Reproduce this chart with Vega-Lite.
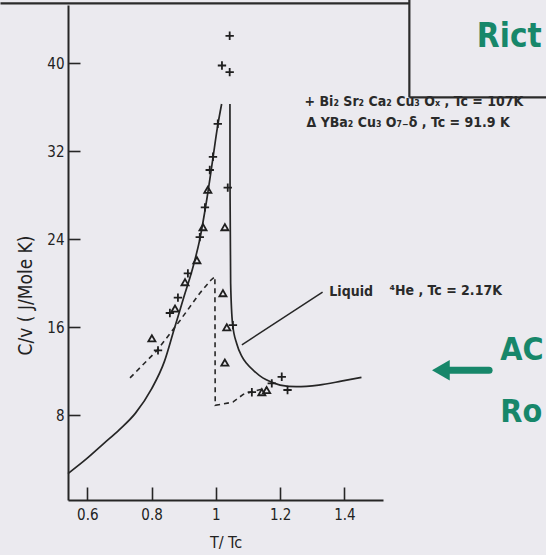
{
  "$schema": "https://vega.github.io/schema/vega-lite/v6.json",
  "width": 315,
  "height": 495,
  "autosize": "none",
  "padding": {"left": 68, "top": 5, "right": 163, "bottom": 55},
  "background": "#ebeaef",
  "config": {
    "view": {"stroke": null},
    "font": "DejaVu Sans Condensed, DejaVu Sans, sans-serif",
    "axis": {
      "grid": false,
      "domainColor": "#262626",
      "domainWidth": 2,
      "tickColor": "#262626",
      "tickWidth": 1.6,
      "labelColor": "#222222",
      "labelFont": "DejaVu Sans Condensed, DejaVu Sans, sans-serif",
      "labelFontSize": 15,
      "titleColor": "#222222",
      "titleFont": "DejaVu Sans Condensed, DejaVu Sans, sans-serif",
      "titleFontWeight": "normal",
      "titleFontSize": 16
    }
  },
  "datasets": {
    "lambda": [
      {"branch": "below", "t": 0.54, "c": 2.7},
      {"branch": "below", "t": 0.6, "c": 4.1},
      {"branch": "below", "t": 0.65, "c": 5.4},
      {"branch": "below", "t": 0.7, "c": 6.7},
      {"branch": "below", "t": 0.75, "c": 8.2},
      {"branch": "below", "t": 0.8, "c": 10.4},
      {"branch": "below", "t": 0.84, "c": 12.9},
      {"branch": "below", "t": 0.87, "c": 15.8},
      {"branch": "below", "t": 0.9, "c": 18.7},
      {"branch": "below", "t": 0.93, "c": 21.6},
      {"branch": "below", "t": 0.95, "c": 24.0},
      {"branch": "below", "t": 0.97, "c": 27.3},
      {"branch": "below", "t": 0.99, "c": 31.2},
      {"branch": "below", "t": 1.005, "c": 34.2},
      {"branch": "below", "t": 1.018, "c": 36.3},
      {"branch": "above", "t": 1.0438, "c": 36.3},
      {"branch": "above", "t": 1.0442, "c": 28.0},
      {"branch": "above", "t": 1.046, "c": 20.0},
      {"branch": "above", "t": 1.052, "c": 16.3},
      {"branch": "above", "t": 1.065, "c": 14.5},
      {"branch": "above", "t": 1.08, "c": 13.4},
      {"branch": "above", "t": 1.096, "c": 12.7},
      {"branch": "above", "t": 1.12, "c": 12.0},
      {"branch": "above", "t": 1.146, "c": 11.4},
      {"branch": "above", "t": 1.175, "c": 11.0},
      {"branch": "above", "t": 1.2, "c": 10.75},
      {"branch": "above", "t": 1.25, "c": 10.6},
      {"branch": "above", "t": 1.32, "c": 10.75},
      {"branch": "above", "t": 1.39, "c": 11.1},
      {"branch": "above", "t": 1.453, "c": 11.45}
    ],
    "bcs": [
      {"step": 1, "t": 0.733, "c": 11.4},
      {"step": 2, "t": 0.817, "c": 13.9},
      {"step": 3, "t": 0.888, "c": 16.6},
      {"step": 4, "t": 0.95, "c": 19.1},
      {"step": 5, "t": 0.985, "c": 20.3},
      {"step": 6, "t": 0.997, "c": 20.6},
      {"step": 7, "t": 0.998, "c": 8.9},
      {"step": 8, "t": 1.053, "c": 9.2},
      {"step": 9, "t": 1.085, "c": 9.9},
      {"step": 10, "t": 1.12, "c": 10.2},
      {"step": 11, "t": 1.16, "c": 10.5}
    ],
    "bi2223": [
      {"t": 1.043, "c": 42.5},
      {"t": 1.019, "c": 39.8},
      {"t": 1.043, "c": 39.2},
      {"t": 1.006, "c": 34.5},
      {"t": 0.991, "c": 31.5},
      {"t": 0.981, "c": 30.3},
      {"t": 0.966, "c": 26.9},
      {"t": 0.95, "c": 24.2},
      {"t": 1.037, "c": 28.7},
      {"t": 1.053, "c": 16.2},
      {"t": 0.913, "c": 20.9},
      {"t": 0.882, "c": 18.7},
      {"t": 0.857, "c": 17.3},
      {"t": 0.82, "c": 13.9},
      {"t": 1.174, "c": 10.9},
      {"t": 1.205, "c": 11.5},
      {"t": 1.223, "c": 10.3},
      {"t": 1.112, "c": 10.1}
    ],
    "ybco": [
      {"t": 0.975, "c": 28.5},
      {"t": 0.96, "c": 25.1},
      {"t": 1.028, "c": 25.1},
      {"t": 0.941, "c": 22.1},
      {"t": 0.904, "c": 20.1},
      {"t": 0.873, "c": 17.7},
      {"t": 0.801, "c": 15.0},
      {"t": 1.022, "c": 19.1},
      {"t": 1.034, "c": 16.0},
      {"t": 1.028, "c": 12.8},
      {"t": 1.143, "c": 10.1},
      {"t": 1.158, "c": 10.3}
    ],
    "pointer": [
      {"t": 1.081, "c": 14.4, "t2": 1.332, "c2": 19.2}
    ],
    "notes": [
      {"t": 1.276, "c": 36.5, "label": "+ Bi₂ Sr₂ Ca₂ Cu₃ Oₓ , Tc = 107K"},
      {"t": 1.282, "c": 34.6, "label": "Δ YBa₂ Cu₃ O₇₋δ , Tc = 91.9 K"},
      {"t": 1.353, "c": 19.2, "label": "Liquid"},
      {"t": 1.54, "c": 19.3, "label": "⁴He , Tc = 2.17K"}
    ],
    "frame": [
      {"t": 0.33, "c": 45.45, "t2": 1.602, "c2": 45.45},
      {"t": 1.602, "c": 45.8, "t2": 1.602, "c2": 36.9},
      {"t": 1.602, "c": 36.9, "t2": 2.03, "c2": 36.9}
    ],
    "arrowShaft": [
      {"t": 1.71, "c": 12.1, "t2": 1.85, "c2": 12.1}
    ],
    "arrowHead": [
      {"t": 1.7, "c": 12.1}
    ],
    "marker": [
      {"t": 1.812, "c": 42.4, "label": "Rict", "size": 33},
      {"t": 1.885, "c": 13.9, "label": "AC", "size": 32},
      {"t": 1.885, "c": 8.3, "label": "Ro", "size": 32}
    ]
  },
  "encoding": {
    "x": {
      "field": "t",
      "type": "quantitative",
      "scale": {"domain": [0.54, 1.52], "nice": false, "zero": false},
      "axis": {
        "values": [0.6, 0.8, 1, 1.2, 1.4],
        "format": ".1~f",
        "title": "T/ Tc",
        "tickSize": -13,
        "labelPadding": 20,
        "titlePadding": 12
      }
    },
    "y": {
      "field": "c",
      "type": "quantitative",
      "scale": {"domain": [0.3, 45.3], "nice": false, "zero": false},
      "axis": {
        "values": [8, 16, 24, 32, 40],
        "title": "C/v ( J/Mole K)",
        "titleFontSize": 19,
        "tickSize": -12,
        "labelPadding": 16,
        "titleY": 290,
        "titleX": -33
      }
    }
  },
  "layer": [
    {
      "data": {"name": "frame"},
      "mark": {"type": "rule", "color": "#2b2b2b", "strokeWidth": 2.2},
      "encoding": {"x2": {"field": "t2"}, "y2": {"field": "c2"}}
    },
    {
      "data": {"name": "lambda"},
      "mark": {"type": "line", "color": "#262626", "strokeWidth": 1.7, "interpolate": "monotone"},
      "encoding": {"detail": {"field": "branch"}}
    },
    {
      "data": {"name": "bcs"},
      "mark": {"type": "line", "color": "#262626", "strokeWidth": 1.6, "strokeDash": [5, 4]},
      "encoding": {"order": {"field": "step", "type": "quantitative"}}
    },
    {
      "data": {"name": "pointer"},
      "mark": {"type": "rule", "color": "#262626", "strokeWidth": 1.5},
      "encoding": {"x2": {"field": "t2"}, "y2": {"field": "c2"}}
    },
    {
      "data": {"name": "bi2223"},
      "mark": {"type": "point", "shape": "M-1,0H1M0,-1V1", "filled": false, "color": "#1f1f1f", "strokeWidth": 1.8, "size": 70, "opacity": 1}
    },
    {
      "data": {"name": "ybco"},
      "mark": {"type": "point", "shape": "triangle-up", "filled": false, "color": "#1f1f1f", "strokeWidth": 1.8, "size": 50, "opacity": 1}
    },
    {
      "data": {"name": "notes"},
      "mark": {"type": "text", "align": "left", "baseline": "middle", "fontSize": 14, "fontWeight": "bold", "color": "#2a2a2a"},
      "encoding": {"text": {"field": "label"}}
    },
    {
      "data": {"name": "arrowShaft"},
      "mark": {"type": "rule", "color": "#17876a", "strokeWidth": 7, "strokeCap": "round"},
      "encoding": {"x2": {"field": "t2"}, "y2": {"field": "c2"}}
    },
    {
      "data": {"name": "arrowHead"},
      "mark": {"type": "point", "shape": "triangle-left", "filled": true, "color": "#17876a", "size": 420, "opacity": 1}
    },
    {
      "data": {"name": "marker"},
      "mark": {"type": "text", "align": "left", "baseline": "middle", "fontWeight": "bold", "color": "#17876a"},
      "encoding": {"text": {"field": "label"}, "size": {"field": "size", "type": "quantitative", "scale": null}}
    }
  ]
}
